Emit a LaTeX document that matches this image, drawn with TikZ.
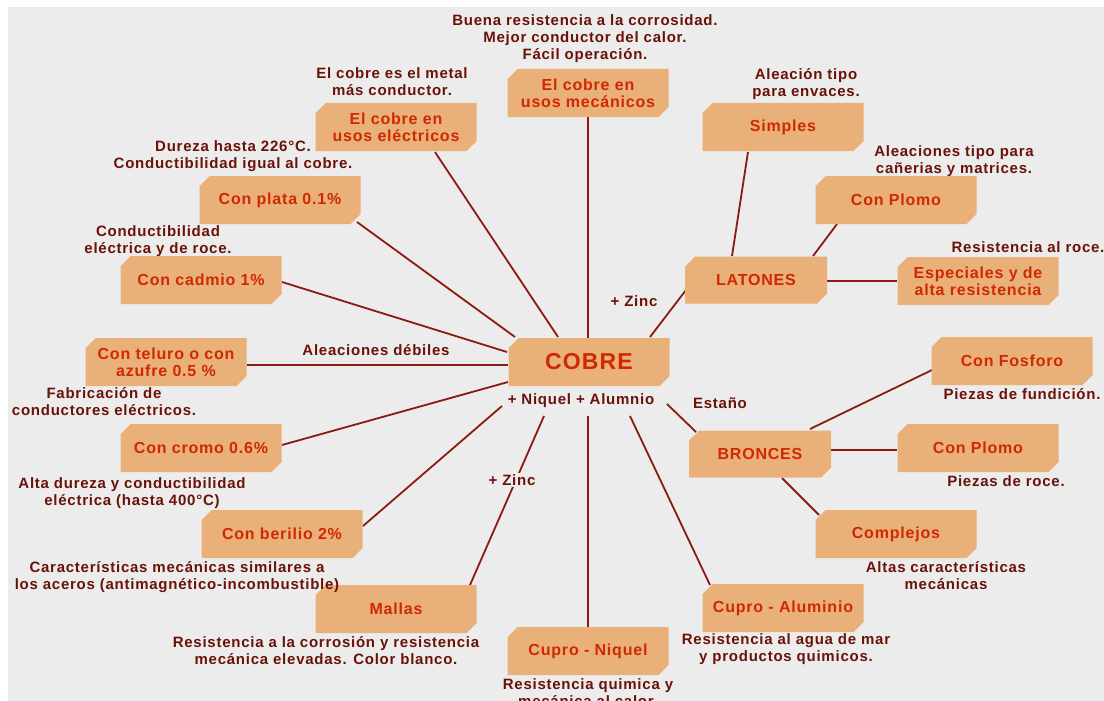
\documentclass[tikz,border=0pt]{standalone}
\usepackage{fontspec}
\setmainfont{Liberation Sans}
\newfontfamily\annfont[LetterSpace=5]{Liberation Sans}
\usetikzlibrary{shapes.misc,calc}
\definecolor{bgc}{HTML}{ECECEC}
\definecolor{boxfill}{HTML}{E9B07A}
\definecolor{boxtext}{HTML}{D02800}
\definecolor{anntext}{HTML}{6A1208}
\definecolor{linec}{HTML}{8B1A10}
\pgfdeclarelayer{bgl}
\pgfsetlayers{bgl,main}
\tikzset{
  box/.style={chamfered rectangle, chamfered rectangle corners={north west,south east},
    chamfered rectangle xsep=5pt, chamfered rectangle ysep=5pt,
    fill=boxfill, draw=none, text=boxtext,
    font=\annfont\bfseries\fontsize{16}{17}\selectfont,
    minimum width=161pt, minimum height=48pt, inner sep=0pt, align=center},
  sbox/.style={box, minimum width=142pt, minimum height=47pt},
  ann/.style={text=anntext, font=\annfont\bfseries\fontsize{15}{17}\selectfont,
    inner sep=0pt, align=center},
  lbl/.style={ann, fill=bgc, inner sep=1pt},
  conn/.style={draw=linec, line width=1.8pt}
}
\begin{document}
\begin{tikzpicture}[x=1pt,y=-1pt]
\useasboundingbox (0,0) rectangle (1104,701);
% boxes
\node[box, font=\annfont\bfseries\fontsize{23}{24}\selectfont] (cobre) at (589,362) {COBRE};
\node[box] (mec) at (588,93) {El cobre en\\usos mecánicos};
\node[box] (elec) at (396,127) {El cobre en\\usos eléctricos};
\node[box] (plata) at (280,200) {Con plata 0.1\%};
\node[box] (cadmio) at (201,280) {Con cadmio 1\%};
\node[box] (teluro) at (166,362) {Con teluro o con\\azufre 0.5 \%};
\node[box] (cromo) at (201,448) {Con cromo 0.6\%};
\node[box] (berilio) at (282,534) {Con berilio 2\%};
\node[box] (mallas) at (396,609) {Mallas};
\node[box] (cniq) at (588,651) {Cupro - Niquel};
\node[box] (calum) at (783,608) {Cupro - Aluminio};
\node[sbox] (latones) at (756,280) {LATONES};
\node[box] (simples) at (783,127) {Simples};
\node[box] (lplomo) at (896,200) {Con Plomo};
\node[box] (espec) at (978,281) {Especiales y de\\alta resistencia};
\node[sbox] (bronces) at (760,454) {BRONCES};
\node[box] (fosforo) at (1012,361) {Con Fosforo};
\node[box] (bplomo) at (978,448) {Con Plomo};
\node[box] (complejos) at (896,534) {Complejos};
% annotations
\node[ann] (mecA) at (585,39) {Buena resistencia a la corrosidad.\\Mejor conductor del calor.\\Fácil operación.};
\node[ann] (elecA) at (392,82) {El cobre es el metal\\más conductor.};
\node[ann] (plataA) at (233,156.5) {Dureza hasta 226°C.\\Conductibilidad igual al cobre.};
\node[ann] (cadmioA) at (158,241.5) {Conductibilidad\\eléctrica y de roce.};
\node[ann] (teluroA) at (104,401.5) {Fabricación de\\conductores eléctricos.};
\node[ann] (debiles) at (376,350) {Aleaciones débiles};
\node[ann] (cromoA) at (132,493) {Alta dureza y conductibilidad\\eléctrica (hasta 400°C)};
\node[ann] (berilioA) at (177,577.5) {Características mecánicas similares a\\los aceros (antimagnético-incombustible)};
\node[ann] (mallasA) at (326,650.5) {Resistencia a la corrosión y resistencia\\mecánica elevadas. Color blanco.};
\node[ann] (cniqA) at (588,692.5) {Resistencia quimica y\\mecánica al calor.};
\node[ann] (calumA) at (786,649.5) {Resistencia al agua de mar\\y productos quimicos.};
\node[ann] (simplesA) at (806,84) {Aleación tipo\\para envaces.};
\node[ann] (lplomoA) at (954,161.5) {Aleaciones tipo para\\cañerias y matrices.};
\node[ann] (especA) at (1028,247) {Resistencia al roce.};
\node[ann] (fosforoA) at (1022,394) {Piezas de fundición.};
\node[ann] (bplomoA) at (1006,481) {Piezas de roce.};
\node[ann] (complejosA) at (946,575.5) {Altas características\\mecánicas};
\node[ann] (zinc1) at (634,301) {+ Zinc};
\node[ann] (niq) at (581,401) {+ Niquel + Alumnio};
\node[ann] (estano) at (720,403) {Estaño};
\node[lbl] (zinc2) at (512,480) {+ Zinc};
\begin{pgfonlayer}{bgl}
\fill[white] (0,0) rectangle (1104,701);
\fill[bgc] (8,7) rectangle (1104,701);
\draw[conn] (mec.south) -- (cobre.north -| mec.south);
\draw[conn] ($(elec.center)+(39,25)$) -- ($(cobre.center)+(-31,-25)$);
\draw[conn] ($(plata.center)+(77,22)$) -- ($(cobre.center)+(-74,-25)$);
\draw[conn] ($(cadmio.center)+(81,2)$) -- ($(cobre.center)+(-82,-10)$);
\draw[conn] ($(teluro.center)+(81,3)$) -- ($(cobre.center)+(-81,3)$);
\draw[conn] ($(cromo.center)+(81,-3)$) -- ($(cobre.center)+(-81,20)$);
\draw[conn] ($(berilio.center)+(81,-8)$) -- ($(cobre.center)+(-87,44)$);
\draw[conn] ($(mallas.center)+(74,-24)$) -- ($(cobre.center)+(-45,54)$);
\draw[conn] ($(cobre.center)+(-1,54)$) -- (cniq.north);
\draw[conn] ($(cobre.center)+(41,54)$) -- ($(calum.center)+(-73,-23)$);
\draw[conn] ($(cobre.center)+(78,42)$) -- ($(bronces.center)+(-64,-22)$);
\draw[conn] ($(cobre.center)+(61,-25)$) -- ($(latones.center)+(-70,10)$);
\draw[conn] ($(simples.center)+(-35,25)$) -- ($(latones.center)+(-24,-24)$);
\draw[conn] ($(lplomo.center)+(-59,24)$) -- ($(latones.center)+(57,-24)$);
\draw[conn] ($(latones.center)+(71,1)$) -- ($(espec.center)+(-81,0)$);
\draw[conn] ($(bronces.center)+(50,-25)$) -- ($(fosforo.center)+(-80,9)$);
\draw[conn] ($(bronces.center)+(71,-4)$) -- ($(bplomo.center)+(-81,2)$);
\draw[conn] ($(bronces.center)+(22,24)$) -- ($(complejos.center)+(-77,-19)$);
\end{pgfonlayer}
\end{tikzpicture}
\end{document}
